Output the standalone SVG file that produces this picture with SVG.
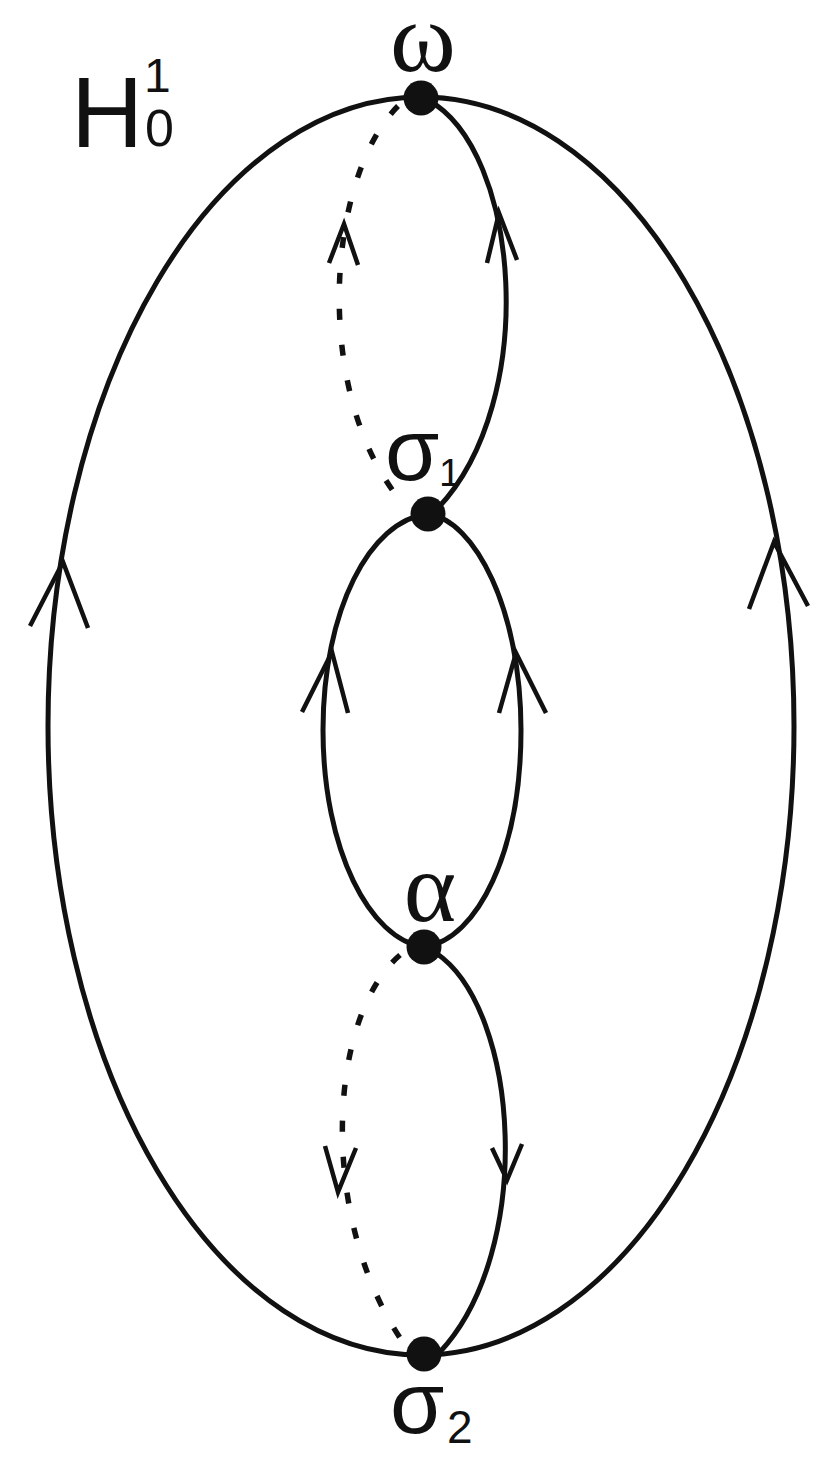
<svg xmlns="http://www.w3.org/2000/svg" width="830" height="1467" viewBox="0 0 830 1467">
<style>
.ln{fill:none;stroke:#111;stroke-width:5;stroke-linecap:butt}
.ds{fill:none;stroke:#111;stroke-width:5.5;stroke-dasharray:11 25}
.ar{fill:none;stroke:#111;stroke-width:4.5;stroke-linejoin:miter}
.nd{fill:#111}
.sans{font-family:"Liberation Sans",Arial,sans-serif;fill:#111}
.serif{font-family:"Liberation Serif","Times New Roman",serif;fill:#111}
</style>
<rect width="830" height="1467" fill="#fff"/>
<g id="connectors">
<ellipse class="ln" cx="421" cy="726" rx="373" ry="629"/>
<path class="ln" d="M428,514 C370,520 323,610 323,730 C323,850 370,940 424,947"/>
<path class="ln" d="M428,514 C475,520 521,610 521,730 C521,850 478,940 424,947"/>
<path class="ln" d="M428,100 C520,150 540,400 438,508"/>
<path class="ln" d="M436,953 C520,1010 535,1250 440,1352"/>
<path class="ds" d="M398,106 C325,180 312,400 405,506"/>
<path class="ds" d="M400,955 C325,1020 318,1230 410,1352"/>
<polyline class="ar" points="329,263 344,224 358,265"/>
<polyline class="ar" points="325,1146 338,1192 356,1148"/>
<polyline class="ar" points="487,263 499,213 517,260"/>
<polyline class="ar" points="492,1148 507,1180 522,1144"/>
<polyline class="ar" points="302,712 332,652 348,713"/>
<polyline class="ar" points="499,713 516,653 546,713"/>
<polyline class="ar" points="30,626 63,562 88,628"/>
<polyline class="ar" points="749,609 774,542 808,606"/>
</g>
<g id="label-H">
<text class="sans" x="71" y="147" font-size="100">H</text>
<text class="sans" x="145" y="146" font-size="52">0</text>
<text class="sans" x="144" y="92" font-size="48">1</text>
</g>
<g id="node-omega">
<circle class="nd" cx="421" cy="98" r="17.5"/>
<text class="serif" x="423" y="71" font-size="100" text-anchor="middle">ω</text>
</g>
<g id="node-sigma1">
<circle class="nd" cx="428" cy="514" r="17.5"/>
<text class="sans" x="385" y="480" font-size="88">σ</text>
<text class="sans" x="439" y="486" font-size="39">1</text>
</g>
<g id="node-alpha">
<circle class="nd" cx="424" cy="947" r="17.5"/>
<text class="serif" x="430" y="921" font-size="100" text-anchor="middle">α</text>
</g>
<g id="node-sigma2">
<circle class="nd" cx="424" cy="1354" r="17.5"/>
<text class="sans" x="390" y="1433" font-size="88">σ</text>
<text class="sans" x="447" y="1443" font-size="46">2</text>
</g>
</svg>
